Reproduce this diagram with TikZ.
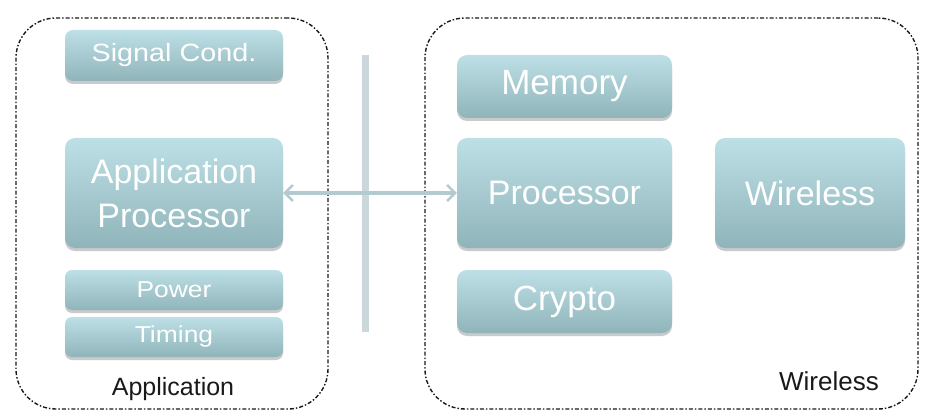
\documentclass[tikz,border=0pt]{standalone}
\usepackage{fontspec}
\setmainfont{Liberation Sans}
\newfontfamily\widefont[FakeStretch=1.15]{Liberation Sans}
\usetikzlibrary{arrows.meta,shadows}
\definecolor{boxtop}{HTML}{BDE0E6}
\definecolor{boxbot}{HTML}{8FB4B9}
\definecolor{arrowc}{HTML}{B3CBCF}
\definecolor{vline}{HTML}{CBD7DA}
\tikzset{
  blk/.style={rectangle, rounded corners=10pt, top color=boxtop, bottom color=boxbot,
    draw=none, text=white, align=center, inner sep=0pt,
    drop shadow={shadow xshift=0pt, shadow yshift=-3pt, opacity=0.35, fill=black!60}},
  grp/.style={rectangle, rounded corners=40pt, draw=black!90, line width=1.4pt,
    dash pattern=on 4pt off 2pt on 1.5pt off 2pt, inner sep=0pt},
  lbl/.style={text=black!90, inner sep=0pt},
  link/.style={draw=arrowc, line width=3.5pt, {Straight Barb[length=8pt,width=16pt,line width=2.5pt]}-{Straight Barb[length=8pt,width=16pt,line width=2.5pt]}},
  sep/.style={draw=vline, line width=7pt}
}
\begin{document}
\begin{tikzpicture}[x=1pt,y=-1pt]
\useasboundingbox (0,0) rectangle (936,414);
% group frames
\node[grp, minimum width=312pt, minimum height=391pt] (lgrp) at (172,213.5) {};
\node[grp, minimum width=493pt, minimum height=391pt] (rgrp) at (671.5,213.5) {};
% separator
\coordinate (vt) at (365,55);
\coordinate (vb) at (365,332);
\draw[sep] (vt) -- (vb);
% left blocks
\node[blk, minimum width=218pt, minimum height=51pt, rounded corners=8pt, font=\fontsize{25}{27}\widefont] (sig) at (174,55.5) {Signal Cond.};
\node[blk, minimum width=218pt, minimum height=110pt, font=\fontsize{34}{44}\selectfont] (ap) at (174,193) {Application\\Processor};
\node[blk, minimum width=218pt, minimum height=40pt, rounded corners=7pt, font=\fontsize{23}{25}\widefont] (pow) at (174,290) {Power};
\node[blk, minimum width=218pt, minimum height=40pt, rounded corners=7pt, font=\fontsize{23}{25}\widefont] (tim) at (174,337) {Timing};
% right blocks
\node[blk, minimum width=215pt, minimum height=63pt, font=\fontsize{35}{38}\selectfont] (mem) at (564.5,86.5) {Memory};
\node[blk, minimum width=215pt, minimum height=110pt, font=\fontsize{34}{38}\selectfont] (proc) at (564.5,193) {Processor};
\node[blk, minimum width=215pt, minimum height=63pt, font=\fontsize{35}{38}\selectfont] (cry) at (564.5,301.5) {Crypto};
\node[blk, minimum width=190pt, minimum height=110pt, font=\fontsize{34}{38}\selectfont] (wl) at (810,193) {Wireless};
% link
\draw[link] (ap.east) -- (proc.west);
% labels
\node[lbl, font=\fontsize{25}{27}\selectfont] (lapp) at (173,389) {Application};
\node[lbl, font=\fontsize{26}{28}\selectfont] (lwl) at (829,381) {Wireless};
\end{tikzpicture}
\end{document}
